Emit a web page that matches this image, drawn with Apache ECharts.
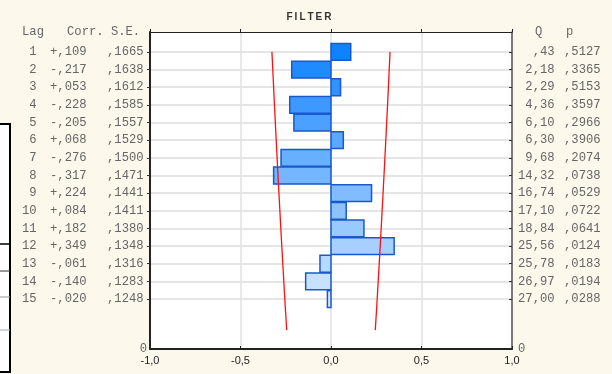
<!DOCTYPE html>
<html><head><meta charset="utf-8">
<script src="https://cdn.jsdelivr.net/npm/echarts@6/dist/echarts.min.js"></script>
<style>html,body{margin:0;padding:0;background:#fdf8ec;}#c{width:612px;height:374px;}</style>
</head><body><div id="c"></div>
<script>
// ---- data ----
var lags = [1,2,3,4,5,6,7,8,9,10,11,12,13,14,15];
var corr = [0.109,-0.217,0.053,-0.228,-0.205,0.068,-0.276,-0.317,0.224,0.084,0.182,0.349,-0.061,-0.140,-0.020];
var corrText = ['+,109','-,217','+,053','-,228','-,205','+,068','-,276','-,317','+,224','+,084','+,182','+,349','-,061','-,140','-,020'];
var seText = [',1665',',1638',',1612',',1585',',1557',',1529',',1500',',1471',',1441',',1411',',1380',',1348',',1316',',1283',',1248'];
var se = [0.1665,0.1638,0.1612,0.1585,0.1557,0.1529,0.1500,0.1471,0.1441,0.1411,0.1380,0.1348,0.1316,0.1283,0.1248];
var qText = [',43','2,18','2,29','4,36','6,10','6,30','9,68','14,32','16,74','17,10','18,84','25,56','25,78','26,97','27,00'];
var pText = [',5127',',3365',',5153',',3597',',2966',',3906',',2074',',0738',',0529',',0722',',0641',',0124',',0183',',0194',',0288'];

// ---- styles ----
var barFill = ['#0f83ff','#1e8bff','#2f92ff','#3d99ff','#4ca1ff','#5aa8ff','#67afff','#74b6ff','#80bcff','#8cc3ff','#98c9ff','#a6d1ff','#b5d9ff','#c6e2ff','#d4eaff'];
var YMIN = -0.13, YMAX = 17.83;
var mono = 'Liberation Mono';
var FS = 12.2, TC = '#666';

function pad(s, n){ s = String(s); while (s.length < n) s = ' ' + s; return s; }
function tok(extra){ var o = {fontFamily:mono, fontSize:FS, color:TC, align:'left'}; for (var k in extra) o[k]=extra[k]; return o; }

var chart = echarts.init(document.getElementById('c'), null, {renderer:'canvas'});
var rowVals = lags.slice();
var labelVals = [YMIN].concat(lags).concat([YMAX]);
function isNear(a,b){return Math.abs(a-b)<1e-6;}

var option = {
  backgroundColor: '#fdf8ec',
  animation: false,
  title: {text:'F\u2009I\u2009L\u2009T\u2009E\u2009R', left: 309, top: 12, textAlign:'center', padding:0,
    textStyle:{fontFamily:'Liberation Sans', fontSize:10, fontWeight:'bold', color:'#333'}},
  grid: {left:150, right:100, top:32, bottom:25, show:true, backgroundColor:'#ffffff', borderWidth:0},
  xAxis: [{
    type:'value', min:-1, max:1, interval:0.5, position:'bottom',
    axisLine:{show:true, onZero:false, lineStyle:{color:'#222', width:2}},
    axisTick:{show:true, inside:true, length:3, lineStyle:{color:'#222'}},
    splitLine:{show:true, lineStyle:{color:'#e2e2e2', width:1.5}},
    axisLabel:{margin:6, fontFamily:'Liberation Sans', fontSize:11, color:'#222',
      formatter:function(v){return v.toFixed(1).replace('.',',');}}
  },{
    type:'value', min:-1, max:1, interval:0.5, position:'top',
    axisLine:{show:true, onZero:false, lineStyle:{color:'#222', width:1}},
    axisTick:{show:true, inside:false, length:3, lineStyle:{color:'#222'}},
    splitLine:{show:false}, axisLabel:{show:false}
  }],
  yAxis: [{
    type:'value', inverse:true, min:YMIN, max:YMAX, position:'left',
    axisLine:{show:true, onZero:false, lineStyle:{color:'#222', width:2}},
    axisTick:{show:true, length:3, customValues: rowVals, lineStyle:{color:'#333'}},
    splitLine:{show:true, lineStyle:{color:'#dcdcdc', width:1.5}},
    axisLabel:{show:true, margin:3, customValues: labelVals, showMinLabel:true, showMaxLabel:true,
      fontFamily:mono, fontSize:FS, color:TC,
      formatter:function(v){
        if (isNear(v,YMIN)) return '{lh|Lag}{ch|Corr. S.E.}';
        if (isNear(v,YMAX)) return '{z|0}';
        var i = lags.indexOf(Math.round(v));
        return '{lg|'+pad(lags[i],2)+'}{cr|'+corrText[i]+'}{se|'+seText[i]+'}';
      },
      rich:{
        lh:tok({width:45}), ch:tok({width:80}), z:tok({}),
        lg:tok({width:28}), cr:tok({width:57}), se:tok({width:40})
      }
    }
  },{
    type:'value', inverse:true, min:YMIN, max:YMAX, position:'right',
    axisLine:{show:true, onZero:false, lineStyle:{color:'#555', width:1.5}},
    axisTick:{show:true, inside:true, length:3, customValues: rowVals, lineStyle:{color:'#333'}},
    splitLine:{show:false},
    axisLabel:{show:true, margin:6, customValues: labelVals, showMinLabel:true, showMaxLabel:true,
      fontFamily:mono, fontSize:FS, color:TC,
      formatter:function(v){
        if (isNear(v,YMIN)) return '{qh|Q}{ph|p}';
        if (isNear(v,YMAX)) return '{z|0}';
        var i = lags.indexOf(Math.round(v));
        return '{q|'+pad(qText[i],5)+'}{p|'+pText[i]+'}';
      },
      rich:{
        qh:tok({width:31, padding:[0,0,0,17]}), ph:tok({width:40}), z:tok({}),
        q:tok({width:46}), p:tok({width:42})
      }
    }
  },{
    type:'value', inverse:true, min:0, max:15.95, show:false
  }],
  series: [{
    type:'custom', xAxisIndex:0, yAxisIndex:0,
    data: lags.map(function(l,i){return [corr[i], l];}),
    renderItem:function(params, api){
      var v = api.value(0), l = api.value(1);
      var p0 = api.coord([0, l]), p1 = api.coord([v, l]);
      var h = api.size([0,1])[1]*0.95;
      var x = Math.min(p0[0],p1[0]), w = Math.abs(p1[0]-p0[0]);
      return {type:'rect', shape:{x:x, y:p0[1]-h/2, width:w, height:h},
        style:{fill: barFill[params.dataIndex], stroke:'#1a58cc', lineWidth:1.5}};
    },
    z:3
  },{
    type:'line', xAxisIndex:0, yAxisIndex:2, symbol:'none', silent:true,
    data: lags.map(function(l,i){return [-1.96*se[i], l];}),
    lineStyle:{color:'#ff1010', width:1.3}, z:4
  },{
    type:'line', xAxisIndex:0, yAxisIndex:2, symbol:'none', silent:true,
    data: lags.map(function(l,i){return [1.96*se[i], l];}),
    lineStyle:{color:'#ff1010', width:1.3}, z:4
  }],
  graphic: [
    {type:'rect', shape:{x:-1,y:124,width:11,height:248}, style:{fill:'#ffffff', stroke:'#000', lineWidth:2}},
    {type:'line', shape:{x1:0,y1:244,x2:10,y2:244}, style:{stroke:'#000', lineWidth:1.5}},
    {type:'line', shape:{x1:0,y1:271,x2:10,y2:271}, style:{stroke:'#333', lineWidth:1}},
    {type:'line', shape:{x1:0,y1:297,x2:10,y2:297}, style:{stroke:'#999', lineWidth:1}},
    {type:'line', shape:{x1:0,y1:330,x2:10,y2:330}, style:{stroke:'#aaa', lineWidth:1}}
  ]
};
chart.setOption(option);
</script>
</body></html>
